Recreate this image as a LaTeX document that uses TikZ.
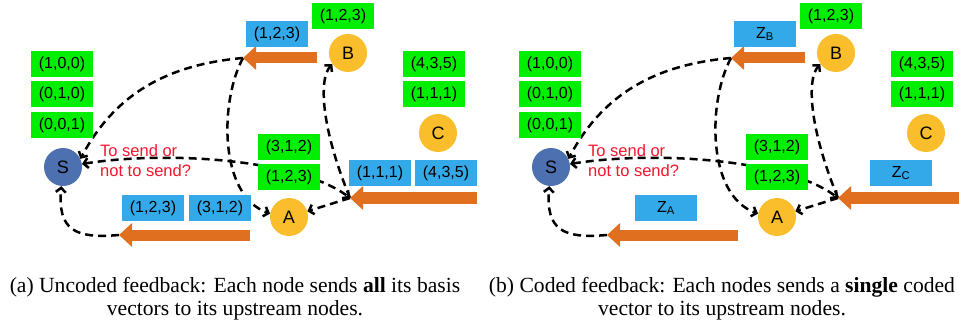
\documentclass[tikz,border=0pt]{standalone}
\usepackage{fontspec}
\setmainfont{Liberation Serif}
\setsansfont{Liberation Sans}
\usetikzlibrary{arrows.meta}

\definecolor{srcblue}{HTML}{4C70B0}
\definecolor{relgold}{HTML}{FABE2C}
\definecolor{basisgreen}{HTML}{00EE00}
\definecolor{fbblue}{HTML}{33A9E9}
\definecolor{fborange}{HTML}{E0701F}
\definecolor{askred}{HTML}{F5142D}

\begin{document}
\begin{tikzpicture}[x=1pt, y=1pt,
		>={Straight Barb[length=4.5pt,width=10pt]},
		vrtx/.style = {circle, inner sep=0pt, minimum size=38pt,
			font=\sffamily\fontsize{18}{18}\selectfont},
		src/.style = {vrtx, fill=srcblue},
		rly/.style = {vrtx, fill=relgold},
		basis/.style = {fill=basisgreen, inner sep=0pt,
			minimum width=62pt, minimum height=26pt,
			font=\sffamily\fontsize{16}{16}\selectfont},
		fb/.style = {basis, fill=fbblue},
		fbarrow/.style = {draw=fborange, line width=11pt,
			-{Triangle[length=13pt,width=23pt]}},
		dsh/.style = {draw=black, line width=2.5pt,
			dash pattern=on 8pt off 5pt, ->},
		ask/.style = {text=askred, align=left, inner sep=0pt,
			font=\sffamily\fontsize{16.5}{20.5}\selectfont},
		capt/.style = {align=center, inner sep=0pt,
			font=\fontsize{21.6}{23}\selectfont}
					]
	\useasboundingbox (0,0) rectangle (959,-326);

	% (a) uncoded feedback
	\node(S1) [src] at (63,-167) {S};
	\node(A1) [rly] at (289,-217) {A};
	\node(B1) [rly] at (348,-53) {B};
	\node(C1) [rly] at (438,-133) {C};

	\coordinate (Bt1) at (317,-58);  \coordinate (Bh1) at (243,-58);
	\coordinate (Ct1) at (477,-198); \coordinate (Ch1) at (350,-198);
	\coordinate (At1) at (250,-235); \coordinate (Ah1) at (119,-235);

	\path[dsh] (Bh1) to[out=185, in=62] (S1.25);
	\path[dsh] (Bh1) .. controls (220,-100) and (218,-195) .. (A1.170);
	\path[dsh, <->] (S1) .. controls (170,-150) and (300,-160) .. (Ch1);
	\path[dsh] (Ch1) -- (A1);
	\path[dsh] (Ch1) .. controls (322,-130) and (318,-80) .. (B1.215);
	\path[dsh] (Ah1) to[out=185, in=-95, looseness=1.5] (S1);

	\draw[fbarrow] (Bt1) -- (Bh1);
	\draw[fbarrow] (Ct1) -- (Ch1);
	\draw[fbarrow] (At1) -- (Ah1);

	\node(s1v1) [basis] at (62,-64) {(1,0,0)};
	\node(s1v2) [basis] at (62,-94) {(0,1,0)};
	\node(s1v3) [basis] at (62,-125) {(0,0,1)};
	\node(b1v1) [basis] at (343,-16) {(1,2,3)};
	\node(c1v1) [basis] at (434,-64) {(4,3,5)};
	\node(c1v2) [basis] at (434,-94) {(1,1,1)};
	\node(a1v1) [basis] at (289,-147) {(3,1,2)};
	\node(a1v2) [basis] at (289,-177) {(1,2,3)};

	\node(b1f1) [fb] at (277,-34) {(1,2,3)};
	\node(c1f1) [fb] at (380,-173) {(1,1,1)};
	\node(c1f2) [fb] at (446,-173) {(4,3,5)};
	\node(a1f1) [fb] at (153,-208) {(1,2,3)};
	\node(a1f2) [fb] at (220,-208) {(3,1,2)};

	\node(ask1) [ask, anchor=north west] at (100,-144) {To send or\\not to send?};
	\node(cap1) [capt, anchor=north] at (235,-277)
		{(a) Uncoded feedback: Each node sends \textbf{all} its basis\\
		 vectors to its upstream nodes.};

	% (b) coded feedback
	\begin{scope}[xshift=488pt]
	\node(S2) [src] at (63,-167) {S};
	\node(A2) [rly] at (289,-217) {A};
	\node(B2) [rly] at (348,-53) {B};
	\node(C2) [rly] at (438,-133) {C};

	\coordinate (Bt2) at (317,-58);  \coordinate (Bh2) at (243,-58);
	\coordinate (Ct2) at (471,-198); \coordinate (Ch2) at (350,-198);
	\coordinate (At2) at (250,-235); \coordinate (Ah2) at (119,-235);

	\path[dsh] (Bh2) to[out=185, in=62] (S2.25);
	\path[dsh] (Bh2) .. controls (220,-100) and (218,-195) .. (A2.170);
	\path[dsh, <->] (S2) .. controls (170,-150) and (300,-160) .. (Ch2);
	\path[dsh] (Ch2) -- (A2);
	\path[dsh] (Ch2) .. controls (322,-130) and (318,-80) .. (B2.215);
	\path[dsh] (Ah2) to[out=185, in=-95, looseness=1.5] (S2);

	\draw[fbarrow] (Bt2) -- (Bh2);
	\draw[fbarrow] (Ct2) -- (Ch2);
	\draw[fbarrow] (At2) -- (Ah2);

	\node(s2v1) [basis] at (62,-64) {(1,0,0)};
	\node(s2v2) [basis] at (62,-94) {(0,1,0)};
	\node(s2v3) [basis] at (62,-125) {(0,0,1)};
	\node(b2v1) [basis] at (343,-16) {(1,2,3)};
	\node(c2v1) [basis] at (434,-64) {(4,3,5)};
	\node(c2v2) [basis] at (434,-94) {(1,1,1)};
	\node(a2v1) [basis] at (289,-147) {(3,1,2)};
	\node(a2v2) [basis] at (289,-177) {(1,2,3)};

	\node(b2f) [fb] at (277,-34) {Z\textsubscript{B}};
	\node(c2f) [fb] at (413,-173) {Z\textsubscript{C}};
	\node(a2f) [fb] at (178,-208) {Z\textsubscript{A}};

	\node(ask2) [ask, anchor=north west] at (100,-144) {To send or\\not to send?};
	\node(cap2) [capt, anchor=north] at (234,-277)
		{(b) Coded feedback: Each nodes sends a \textbf{single} coded\\
		 vector to its upstream nodes.};
	\end{scope}
\end{tikzpicture}
\end{document}
